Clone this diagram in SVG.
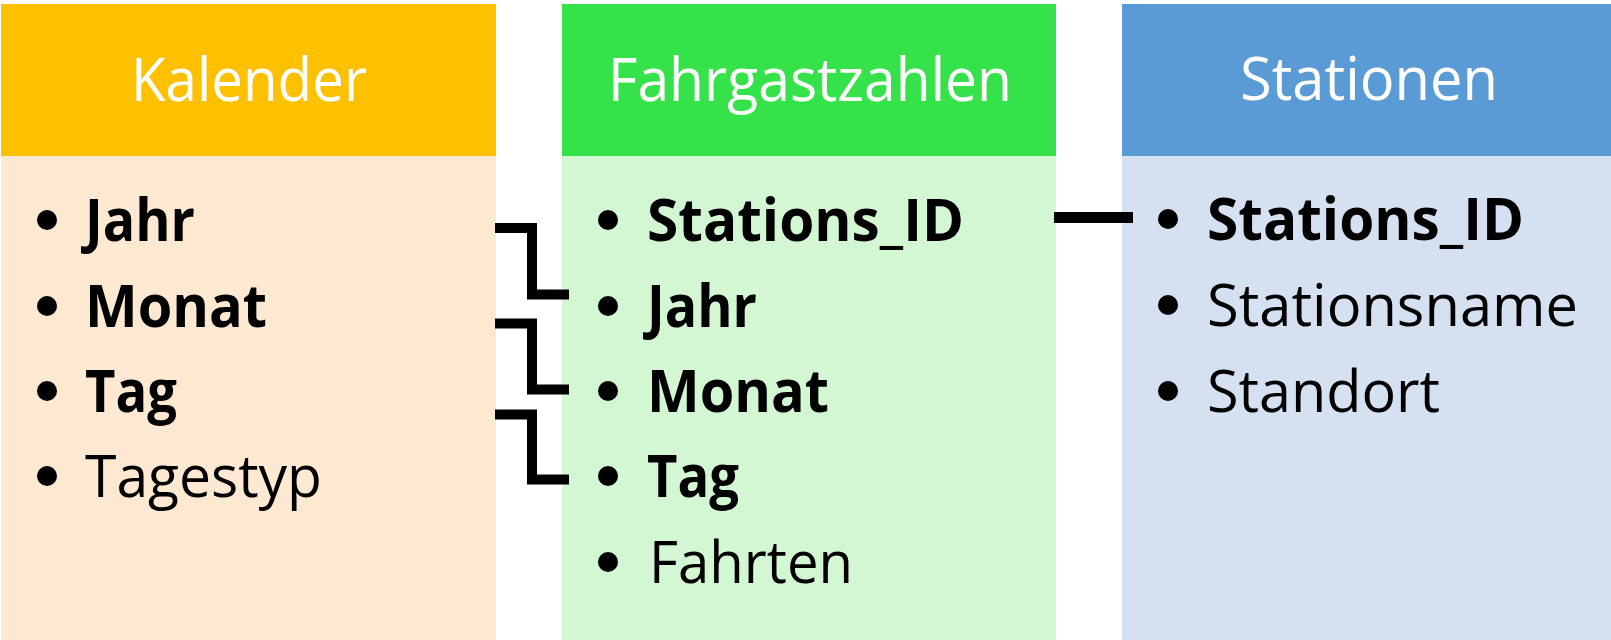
<svg xmlns="http://www.w3.org/2000/svg" width="1611" height="640" viewBox="0 0 1611 640">
<style>
.hdr{font-family:"Open Sans","Liberation Sans",sans-serif;font-size:61px;fill:#ffffff;text-anchor:middle}
.item{font-family:"Open Sans","Liberation Sans",sans-serif;font-size:59px;fill:#000000}
.key{font-weight:bold}
.conn{fill:none;stroke:#000000;stroke-width:10;stroke-linejoin:miter;stroke-linecap:butt}
</style>
<rect x="0" y="0" width="1611" height="640" fill="#ffffff"/>
<g id="kalender">
<rect x="1" y="4" width="495" height="152" fill="#FFC000"/>
<rect x="1" y="156" width="495" height="484" fill="#FDE8D2"/>
<text class="hdr" x="249" y="101" textLength="236" lengthAdjust="spacingAndGlyphs">Kalender</text>
<circle cx="47" cy="220" r="10"/>
<text class="item key" x="85" y="241" textLength="110" lengthAdjust="spacingAndGlyphs">Jahr</text>
<circle cx="47" cy="306" r="10"/>
<text class="item key" x="85" y="327" textLength="182" lengthAdjust="spacingAndGlyphs">Monat</text>
<circle cx="47" cy="391" r="10"/>
<text class="item key" x="85" y="412" textLength="92" lengthAdjust="spacingAndGlyphs">Tag</text>
<circle cx="47" cy="476" r="10"/>
<text class="item" x="85" y="497" textLength="237" lengthAdjust="spacingAndGlyphs">Tagestyp</text>
</g>
<g id="fahrgastzahlen">
<rect x="562" y="4" width="494" height="152" fill="#36E24A"/>
<rect x="562" y="156" width="494" height="484" fill="#D3F7D3"/>
<text class="hdr" x="810" y="101" textLength="404" lengthAdjust="spacingAndGlyphs">Fahrgastzahlen</text>
<circle cx="608" cy="220" r="10"/>
<text class="item key" x="647" y="241" textLength="317" lengthAdjust="spacingAndGlyphs">Stations_ID</text>
<circle cx="608" cy="306" r="10"/>
<text class="item key" x="647" y="327" textLength="110" lengthAdjust="spacingAndGlyphs">Jahr</text>
<circle cx="608" cy="391" r="10"/>
<text class="item key" x="647" y="412" textLength="182" lengthAdjust="spacingAndGlyphs">Monat</text>
<circle cx="608" cy="476" r="10"/>
<text class="item key" x="647" y="497" textLength="92" lengthAdjust="spacingAndGlyphs">Tag</text>
<circle cx="608" cy="562" r="10"/>
<text class="item" x="649" y="583" textLength="204" lengthAdjust="spacingAndGlyphs">Fahrten</text>
</g>
<g id="stationen">
<rect x="1122" y="4" width="489" height="152" fill="#5B9BD5"/>
<rect x="1122" y="156" width="489" height="484" fill="#D5E0F0"/>
<text class="hdr" x="1369" y="100" textLength="258" lengthAdjust="spacingAndGlyphs">Stationen</text>
<circle cx="1168" cy="219" r="10"/>
<text class="item key" x="1207" y="240" textLength="317" lengthAdjust="spacingAndGlyphs">Stations_ID</text>
<circle cx="1168" cy="305" r="10"/>
<text class="item" x="1207" y="326" textLength="371" lengthAdjust="spacingAndGlyphs">Stationsname</text>
<circle cx="1168" cy="391" r="10"/>
<text class="item" x="1207" y="412" textLength="233" lengthAdjust="spacingAndGlyphs">Standort</text>
</g>
<g id="connectors">
<path class="conn" d="M495,228 H532 V294.5 H569"/>
<path class="conn" d="M495,323.5 H532 V389.5 H569"/>
<path class="conn" d="M495,414.5 H532 V479.5 H569"/>
<path class="conn" style="stroke-width:11" d="M1054,217.5 H1133"/>
</g>
</svg>
